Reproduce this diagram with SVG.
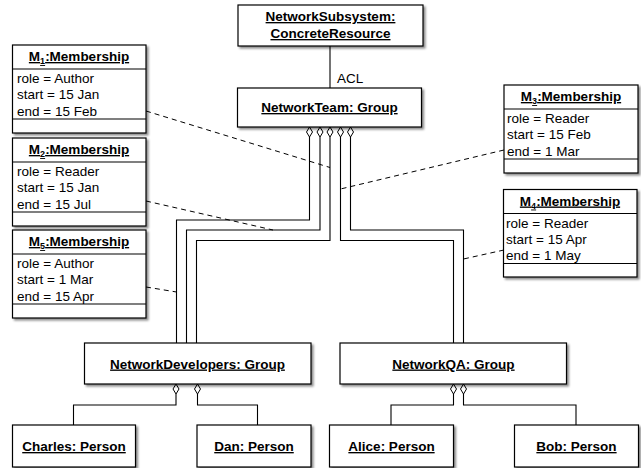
<svg xmlns="http://www.w3.org/2000/svg" width="641" height="468" viewBox="0 0 641 468">
<defs>
<filter id="sh" x="-10%" y="-10%" width="130%" height="140%"><feDropShadow dx="2" dy="2" stdDeviation="1.2" flood-color="#000" flood-opacity="0.45"/></filter>
</defs>
<style>
.box{fill:#fff;stroke:#000;stroke-width:1.2;filter:url(#sh)}
.sep{stroke:#000;stroke-width:1.2}
text{font-family:"Liberation Sans",Arial,Helvetica,sans-serif;font-size:13.5px;fill:#000}
.t{font-weight:bold;text-anchor:middle;text-decoration:underline}
.sub{font-size:9px}
.ln{fill:none;stroke:#000;stroke-width:1.1}
.dash{fill:none;stroke:#000;stroke-width:1;stroke-dasharray:5,4}
.dia{fill:#fff;stroke:#000;stroke-width:1}
</style>
<g id="connectors">
<path class="ln" d="M330,46 V88"/>
<path class="ln" d="M309.5,137 V220 H176.5 V343"/>
<path class="ln" d="M320,137 V230 H186.5 V343"/>
<path class="ln" d="M330,137 V240.5 H196.5 V343"/>
<path class="ln" d="M340.5,137 V240.5 H453.5 V343"/>
<path class="ln" d="M350.5,137 V230 H463.5 V343"/>
<path class="dia" d="M309.5,127 L312.5,132 L309.5,137 L306.5,132 Z"/>
<path class="dia" d="M320,127 L323,132 L320,137 L317,132 Z"/>
<path class="dia" d="M330,127 L333,132 L330,137 L327,132 Z"/>
<path class="dia" d="M340.5,127 L343.5,132 L340.5,137 L337.5,132 Z"/>
<path class="dia" d="M350.5,127 L353.5,132 L350.5,137 L347.5,132 Z"/>
<path class="ln" d="M176,394 V405 H73.5 V425"/>
<path class="ln" d="M197.5,394 V405 H257.5 V425"/>
<path class="ln" d="M453.5,394 V405 H391 V425"/>
<path class="ln" d="M463.5,394 V405 H576 V425"/>
<path class="dia" d="M176,384 L179,389 L176,394 L173,389 Z"/>
<path class="dia" d="M197.5,384 L200.5,389 L197.5,394 L194.5,389 Z"/>
<path class="dia" d="M453.5,384 L456.5,389 L453.5,394 L450.5,389 Z"/>
<path class="dia" d="M463.5,384 L466.5,389 L463.5,394 L460.5,389 Z"/>
<path class="dash" d="M146,111 L330,167.5"/>
<path class="dash" d="M146,201 L273,230"/>
<path class="dash" d="M146,287 L176.5,292"/>
<path class="dash" d="M504,150 L340.5,189"/>
<path class="dash" d="M504,250 L463.5,259"/>
<text x="337" y="82.5">ACL</text>
</g>
<g id="networksubsystem">
<rect class="box" x="238" y="5" width="185" height="41"/>
<text class="t" x="330.5" y="21">NetworkSubsystem:</text>
<text class="t" x="330.5" y="38">ConcreteResource</text>
</g>
<g id="networkteam">
<rect class="box" x="237.5" y="88" width="184" height="39"/>
<text class="t" x="329.5" y="112">NetworkTeam: Group</text>
</g>
<g id="m1">
<rect class="box" x="12.5" y="45" width="133.5" height="88"/>
<line class="sep" x1="12.5" y1="69" x2="146" y2="69"/>
<line class="sep" x1="12.5" y1="119" x2="146" y2="119"/>
<text class="t" x="79" y="61">M<tspan class="sub" dy="3">1</tspan><tspan dy="-3">:Membership</tspan></text>
<text x="17" y="83">role = Author</text>
<text x="17" y="99">start = 15 Jan</text>
<text x="17" y="115.5">end = 15 Feb</text>
</g>
<g id="m2">
<rect class="box" x="12.5" y="138" width="133.5" height="88"/>
<line class="sep" x1="12.5" y1="162" x2="146" y2="162"/>
<line class="sep" x1="12.5" y1="212" x2="146" y2="212"/>
<text class="t" x="79" y="154">M<tspan class="sub" dy="3">2</tspan><tspan dy="-3">:Membership</tspan></text>
<text x="17" y="176">role = Reader</text>
<text x="17" y="192">start = 15 Jan</text>
<text x="17" y="208.5">end = 15 Jul</text>
</g>
<g id="m5">
<rect class="box" x="12.5" y="230" width="133.5" height="88"/>
<line class="sep" x1="12.5" y1="254" x2="146" y2="254"/>
<line class="sep" x1="12.5" y1="304" x2="146" y2="304"/>
<text class="t" x="79" y="246">M<tspan class="sub" dy="3">5</tspan><tspan dy="-3">:Membership</tspan></text>
<text x="17" y="268">role = Author</text>
<text x="17" y="284">start = 1 Mar</text>
<text x="17" y="300.5">end = 15 Apr</text>
</g>
<g id="m3">
<rect class="box" x="504" y="85" width="134" height="88"/>
<line class="sep" x1="504" y1="109" x2="638" y2="109"/>
<line class="sep" x1="504" y1="159" x2="638" y2="159"/>
<text class="t" x="571" y="101">M<tspan class="sub" dy="3">3</tspan><tspan dy="-3">:Membership</tspan></text>
<text x="507" y="123">role = Reader</text>
<text x="507" y="139">start = 15 Feb</text>
<text x="507" y="155.5">end = 1 Mar</text>
</g>
<g id="m4">
<rect class="box" x="503.5" y="189.5" width="133.5" height="87.5"/>
<line class="sep" x1="503.5" y1="213.5" x2="637" y2="213.5"/>
<line class="sep" x1="503.5" y1="263.5" x2="637" y2="263.5"/>
<text class="t" x="570" y="205.5">M<tspan class="sub" dy="3">4</tspan><tspan dy="-3">:Membership</tspan></text>
<text x="506" y="227.5">role = Reader</text>
<text x="506" y="243.5">start = 15 Apr</text>
<text x="506" y="260">end = 1 May</text>
</g>
<g id="networkdevelopers">
<rect class="box" x="84.5" y="343" width="226.5" height="41"/>
<text class="t" x="197.5" y="368.5">NetworkDevelopers: Group</text>
</g>
<g id="networkqa">
<rect class="box" x="340" y="343" width="226.5" height="41"/>
<text class="t" x="453.5" y="368.5">NetworkQA: Group</text>
</g>
<g id="charles">
<rect class="box" x="12.5" y="425" width="123" height="42"/>
<text class="t" x="74" y="451">Charles: Person</text>
</g>
<g id="dan">
<rect class="box" x="197" y="425" width="114" height="42"/>
<text class="t" x="254" y="451">Dan: Person</text>
</g>
<g id="alice">
<rect class="box" x="329.5" y="425" width="124" height="42"/>
<text class="t" x="391.5" y="451">Alice: Person</text>
</g>
<g id="bob">
<rect class="box" x="514.5" y="425" width="124" height="42"/>
<text class="t" x="576.5" y="451">Bob: Person</text>
</g>
</svg>
